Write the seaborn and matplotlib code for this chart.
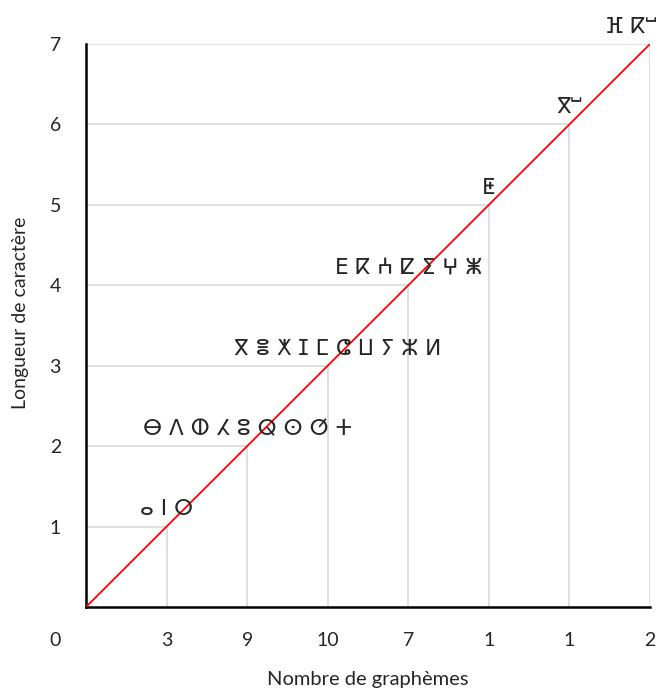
import matplotlib
matplotlib.use("Agg")
import matplotlib.pyplot as plt
import matplotlib.transforms as mtransforms
import seaborn as sns

# longueur de caractère (1..7) et nombre de graphèmes pour chaque longueur
lengths = [1, 2, 3, 4, 5, 6, 7]
counts = [3, 9, 10, 7, 1, 1, 2]
graphemes = [
    ["ⴰ", "ⵏ", "ⵔ"],
    ["ⴱ", "ⴷ", "ⵀ", "ⵃ", "ⵓ", "ⵕ", "ⵙ", "ⵚ", "ⵜ"],
    ["ⴳ", "ⴻ", "ⵅ", "ⵊ", "ⵎ", "ⵛ", "ⵡ", "ⵢ", "ⵣ", "ⵍ"],
    ["ⴹ", "ⴽ", "ⵄ", "ⵇ", "ⵉ", "ⵖ", "ⵥ"],
    ["ⵟ"],
    ["ⴳⵯ"],
    ["ⴼ", "ⴽⵯ"],
]

sns.set_style("white")
plt.rcParams["font.family"] = ["Lato", "DejaVu Sans"]
fontsize = 14

fig = plt.figure(figsize=(6.59, 6.92), dpi=100)
ax = fig.add_axes([0.1305, 0.1228, 0.8558, 0.8136])

grid_col = "#d9d9d9"
# lignes de rappel vers les axes
for k in lengths:
    ax.plot([0, k], [k, k], color=grid_col, lw=1.2, zorder=1)
    ax.plot([k, k], [0, k], color=grid_col, lw=1.2, zorder=1)

# diagonale
sns.lineplot(x=[0] + lengths, y=[0] + lengths, color="red", lw=1.3, ax=ax, zorder=3)

# étiquettes des graphèmes
for k, g in zip(lengths, graphemes):
    if k < 7:
        xk, ha = k, "center"
    else:
        xk, ha = 7.08, "right"
    if k == 3:
        xk += 0.12
    ax.text(xk, k + 0.09, " ".join(g), ha=ha, va="bottom",
            fontsize=15.5, family=["DejaVu Sans"], clip_on=False, zorder=4)

ax.set_xlim(0, 7)
ax.set_ylim(0, 7)
ax.set_xticks([0] + lengths)
ax.set_xticklabels([""] + [str(c) for c in counts])
ax.set_yticks(lengths)
ax.set_yticklabels([str(v) for v in lengths])

for side in ["top", "right"]:
    ax.spines[side].set_visible(False)
for side in ["left", "bottom"]:
    ax.spines[side].set_linewidth(1.8)
    ax.spines[side].set_color("black")

ax.tick_params(axis="both", direction="out", length=5, width=1.8, color="black",
               labelsize=fontsize)
ax.tick_params(axis="x", pad=13)
ax.tick_params(axis="y", pad=13)

# le "0" décalé à gauche de l'origine
trans = mtransforms.blended_transform_factory(ax.transData, ax.transAxes)
ax.annotate("0", xy=(-0.38, 0), xycoords=trans, xytext=(0, -18),
            textcoords="offset points", ha="center", va="top", fontsize=fontsize)

ax.set_xlabel("Nombre de graphèmes", fontsize=14.5, labelpad=16)
ax.set_ylabel("Longueur de caractère", fontsize=14, labelpad=15, y=0.522)

fig.savefig("out.png", dpi=100)
